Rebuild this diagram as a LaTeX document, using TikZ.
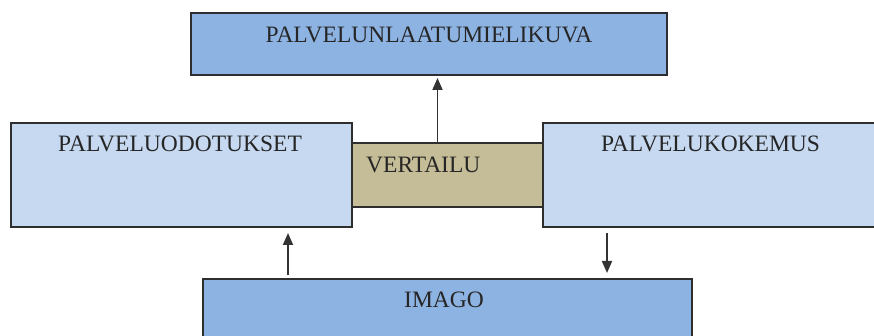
\documentclass[tikz,border=0pt]{standalone}
\usepackage{fontspec}
\setmainfont{Liberation Serif}
\usetikzlibrary{arrows.meta}
\definecolor{darkblue}{HTML}{8DB3E2}
\definecolor{paleblue}{HTML}{C6D9F1}
\definecolor{khaki}{HTML}{C4BD97}
\definecolor{edge}{HTML}{2E2E2E}
\tikzset{
  box/.style={draw=edge, line width=1.4pt, rectangle, inner sep=0pt, outer sep=0pt},
  lbl/.style={inner sep=0pt, text=black!85, font=\fontsize{23.5}{25}\selectfont},
  arr/.style={draw=black!80, line width=1.8pt, -{Triangle[length=12pt,width=10pt]}},
}
\begin{document}
\begin{tikzpicture}[x=1pt,y=-1pt]
\useasboundingbox (0,0) rectangle (874,336);
\clip (0,0) rectangle (874,336);
% boxes
\node[box, fill=darkblue, minimum width=476, minimum height=62, anchor=north west] (quality) at (191,13) {};
\node[box, fill=khaki, minimum width=191, minimum height=64, anchor=north west] (compare) at (352,143) {};
\node[box, fill=paleblue, minimum width=341, minimum height=104, anchor=north west] (expect) at (11,123) {};
\node[box, fill=paleblue, minimum width=335, minimum height=104, anchor=north west] (experience) at (543,123) {};
\node[box, fill=darkblue, minimum width=489, minimum height=80, anchor=north west] (image) at (203,279) {};
% labels
\node[lbl] (tquality) at (429,34.5) {PALVELUNLAATUMIELIKUVA};
\node[lbl] (texpect) at (180,144) {PALVELUODOTUKSET};
\node[lbl, anchor=west] (tcompare) at (366,165) {VERTAILU};
\node[lbl] (texperience) at (710.5,144) {PALVELUKOKEMUS};
\node[lbl] (timage) at (444,300) {IMAGO};
% connectors
\coordinate (xl) at (288,0);
\coordinate (xr) at (607,0);
\coordinate (xt) at (437.5,0);
\draw[arr] (compare.north -| xt) -- ([yshift=-3]quality.south -| xt);
\draw[arr] ([yshift=4]image.north -| xl) -- ([yshift=-6]expect.south -| xl);
\draw[arr] ([yshift=-6]experience.south -| xr) -- ([yshift=6]image.north -| xr);
\end{tikzpicture}
\end{document}
